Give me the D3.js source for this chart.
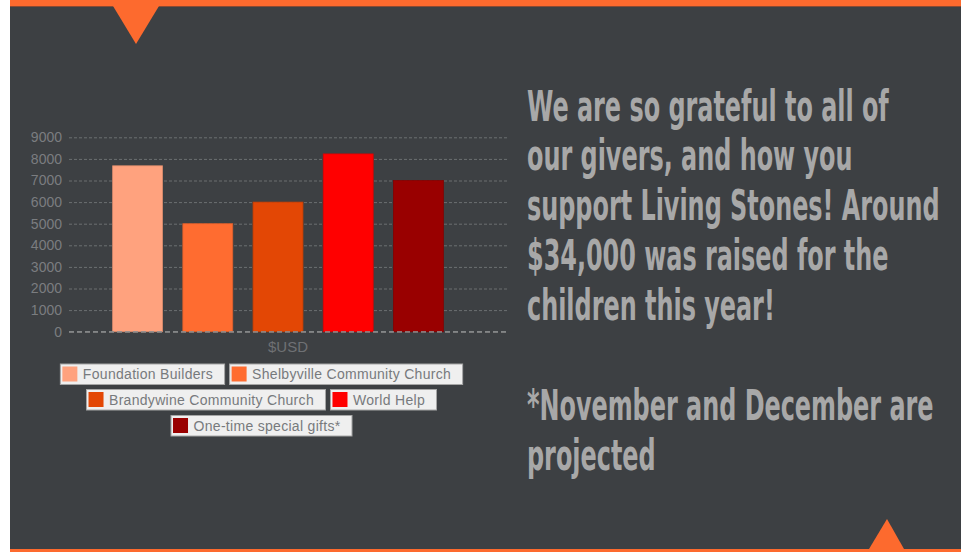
<!DOCTYPE html>
<html>
<head>
<meta charset="utf-8">
<script src="https://cdn.jsdelivr.net/npm/d3@7"></script>
<style>
  html, body { margin: 0; padding: 0; background: #fff; }
  svg { display: block; }
</style>
</head>
<body>
<svg id="slide" width="961" height="552"></svg>
<script>
// chart data
const series = ["Foundation Builders", "Shelbyville Community Church", "Brandywine Community Church", "World Help", "One-time special gifts*"];
const values = [7680, 5000, 6000, 8230, 7000];
const colors = ["#ffa27e", "#ff6c30", "#e34705", "#ff0000", "#990000"];
const yTicks = [0, 1000, 2000, 3000, 4000, 5000, 6000, 7000, 8000, 9000];
const category = "$USD";
const legendRows = [[0, 1], [2, 3], [4]];
const textLines = ["We are so grateful to all of", "our givers, and how you", "support Living Stones! Around",
  "$34,000 was raised for the", "children this year!", "", "*November and December are", "projected"];

const svg = d3.select("#slide");
const orange = "#fd6a2e";

// slide background
svg.append("rect").attr("x", 10).attr("y", 0).attr("width", 951).attr("height", 552).attr("fill", "#3d4043");
svg.append("rect").attr("x", 10).attr("y", 0).attr("width", 951).attr("height", 6).attr("fill", orange);
svg.append("rect").attr("x", 10).attr("y", 6).attr("width", 951).attr("height", 1).attr("fill", "#8a4a33");
svg.append("rect").attr("x", 10).attr("y", 549).attr("width", 951).attr("height", 3).attr("fill", orange);
svg.append("path").attr("d", "M113,6 L159,6 L136,44 Z").attr("fill", orange);
svg.append("path").attr("d", "M869,549 L904,549 L887,519 Z").attr("fill", orange);

// chart
let plot = {left: 69, right: 508, top: 137.3, bottom: 331.7};

let y = d3.scaleLinear().domain([0, 9000]).range([plot.bottom, plot.top]);
let x = d3.scaleBand().domain(series).range([102.5, 453.5]).paddingInner(0.289).paddingOuter(0.1445);

let g = svg.append("g");

g.append("g")
  .attr("class", "axis axis--y")
  .attr("transform", "translate(" + plot.left + ",0)")
  .call(d3.axisLeft(y).tickValues(yTicks).tickSize(-(plot.right - plot.left)).tickPadding(7).tickFormat(d3.format("d")))
  .call(function (a) {
    a.select(".domain").remove();
    a.selectAll(".tick line")
      .attr("stroke", function (d) { return d === 0 ? "#8e9092" : "#6c6f71"; })
      .attr("stroke-dasharray", function (d) { return d === 0 ? "5,3" : "3,2"; });
    a.selectAll(".tick text")
      .attr("fill", "#7b7d80")
      .style("font-family", "'Liberation Sans', Arial, sans-serif")
      .style("font-size", "14px");
  });

g.selectAll(".bar")
  .data(values)
  .enter().append("rect")
  .attr("class", "bar")
  .attr("x", function (d, i) { return x(series[i]); })
  .attr("y", function (d) { return y(d); })
  .attr("width", x.bandwidth())
  .attr("height", function (d) { return plot.bottom - y(d); })
  .attr("fill", function (d, i) { return colors[i]; })
  .attr("stroke", function (d, i) { return d3.color(colors[i]).darker(0.4); })
  .attr("stroke-width", 0.8);

// zero line drawn over bars
g.append("line")
  .attr("x1", plot.left).attr("x2", plot.right)
  .attr("y1", y(0)).attr("y2", y(0))
  .attr("stroke", "#8e9092").attr("stroke-dasharray", "5,3");

g.append("text")
  .attr("x", 288).attr("y", 352)
  .attr("text-anchor", "middle")
  .attr("fill", "#6f7174")
  .style("font-family", "'Liberation Sans', Arial, sans-serif")
  .style("font-size", "15px")
  .text(category);

// legend
let legendCenter = 261;
let rowTops = [363.5, 389, 415];
let lg = svg.append("g").style("font-family", "'Liberation Sans', Arial, sans-serif").style("font-size", "14px");

legendRows.forEach(function (row, r) {
  let items = row.map(function (i) {
    let t = lg.append("text").attr("letter-spacing", "0.3px").text(series[i]);
    let w = t.node().getComputedTextLength();
    return {i: i, t: t, w: w + 34};
  });
  let total = d3.sum(items, function (d) { return d.w; }) + 5 * (items.length - 1);
  let cx = legendCenter - total / 2;
  items.forEach(function (it) {
    lg.insert("rect", "text")
      .attr("x", cx + 0.5).attr("y", rowTops[r] + 0.5)
      .attr("width", it.w).attr("height", 20.5)
      .attr("fill", "#efefef").attr("stroke", "#a6a6a6");
    lg.insert("rect", "text")
      .attr("x", cx + 2.5).attr("y", rowTops[r] + 3)
      .attr("width", 15).attr("height", 15)
      .attr("fill", colors[it.i]);
    it.t.attr("x", cx + 23).attr("y", rowTops[r] + 15.5).attr("fill", "#777a7d");
    cx += it.w + 5;
  });
});

// message text
let msg = svg.append("g").attr("fill", "#a8a8a8")
  .style("font-family", "'DejaVu Sans Condensed', 'Liberation Sans Narrow', sans-serif")
  .style("font-weight", "bold")
  .style("font-size", "42px");

let first = msg.append("text").text(textLines[0]);
let sx = 362 / first.node().getComputedTextLength();
first.remove();

textLines.forEach(function (line, i) {
  if (!line) return;
  msg.append("text")
    .attr("transform", "translate(527," + (120.5 + i * 49.9) + ") scale(" + sx + ",1)")
    .text(line);
});
</script>
</body>
</html>
